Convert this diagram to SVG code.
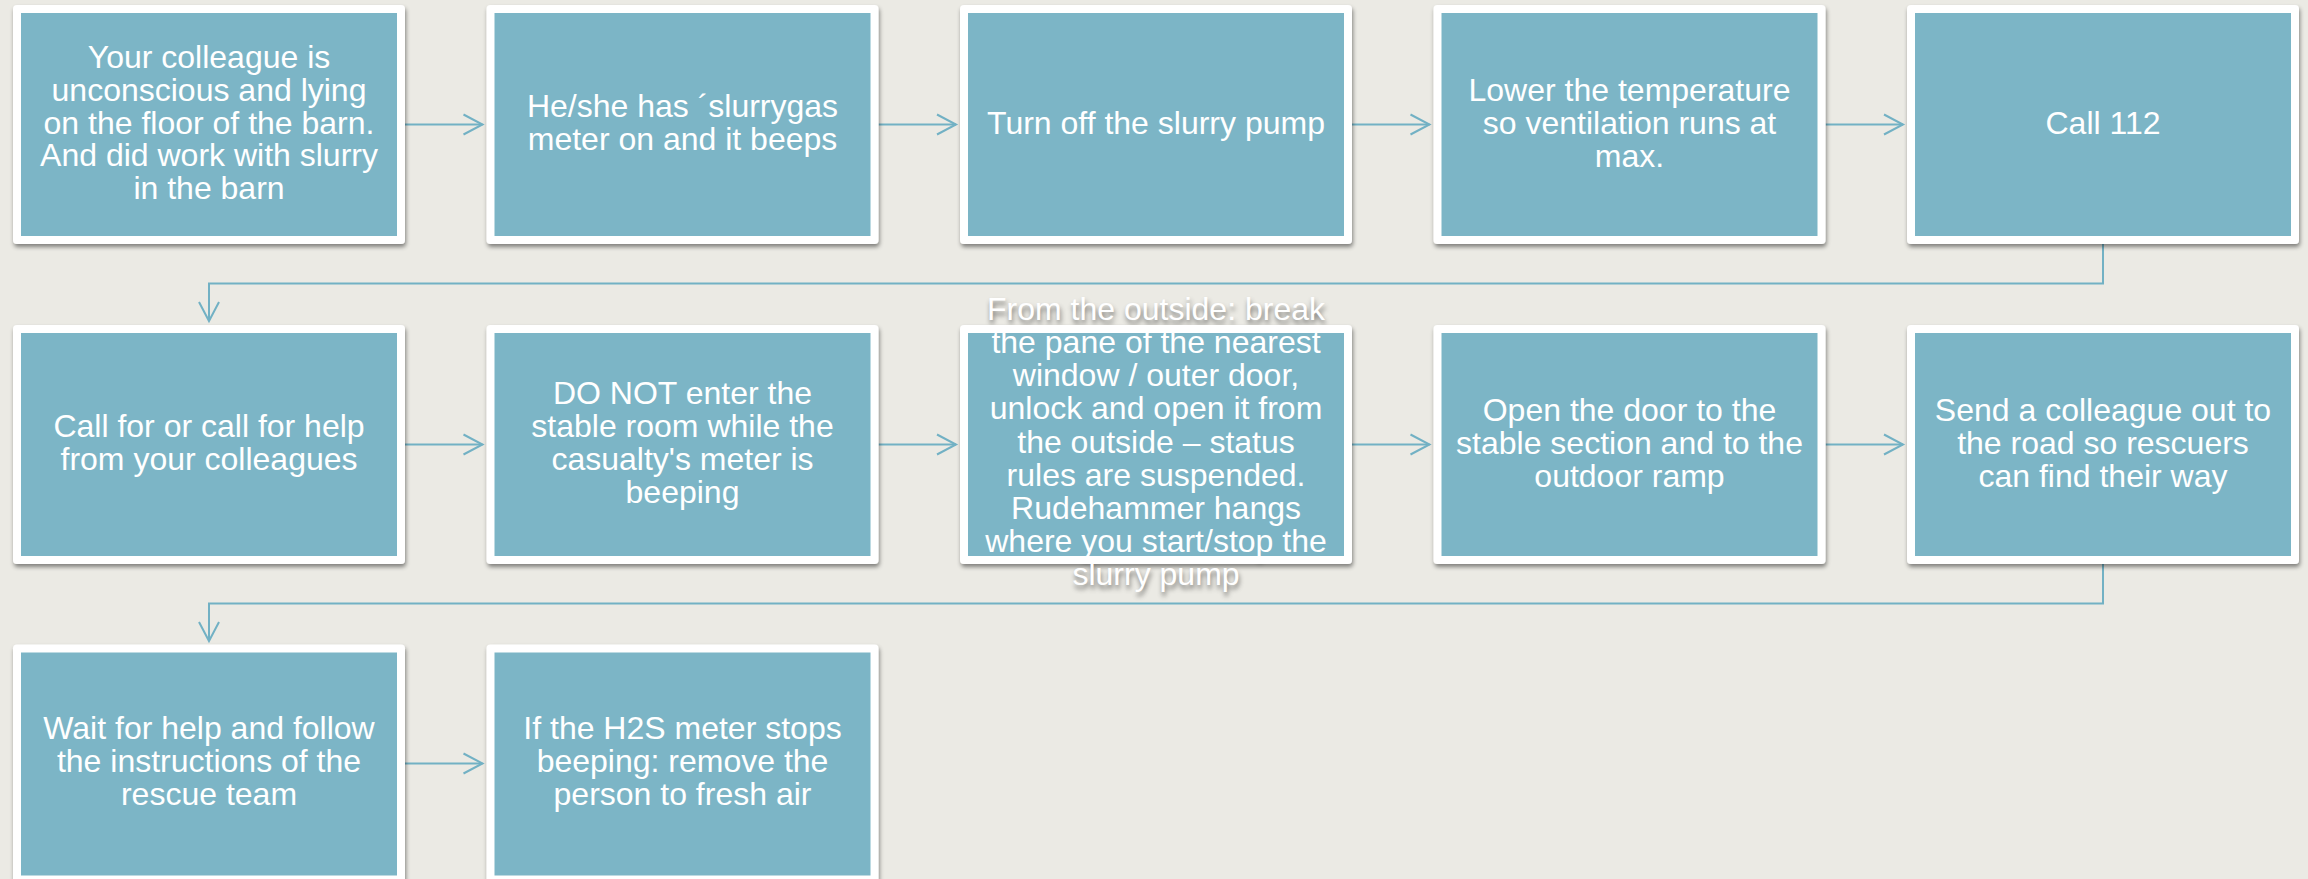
<svg xmlns="http://www.w3.org/2000/svg" width="2308" height="879" viewBox="0 0 2308 879">
<defs>
<style>
.frame{fill:#ffffff;filter:url(#shadow)}
.fill{fill:#7cb5c6}
.t{font-family:"Liberation Sans",Arial,sans-serif;font-size:32px;fill:#ffffff;text-anchor:middle}
.ts{filter:url(#tshadow)}
.c{fill:none;stroke:#72b1c4;stroke-width:2}
</style>
<filter id="shadow" x="-5%" y="-5%" width="115%" height="115%">
<feDropShadow dx="1" dy="3" stdDeviation="2" flood-color="#000" flood-opacity="0.45"/>
</filter>
<filter id="tshadow" x="-10%" y="-10%" width="120%" height="120%">
<feGaussianBlur in="SourceAlpha" stdDeviation="2.5"/>
<feOffset dx="1" dy="4" result="b"/>
<feFlood flood-color="#000" flood-opacity="0.5"/>
<feComposite in2="b" operator="in"/>
</filter>
<marker id="arr" viewBox="-21 -12 24 24" refX="0" refY="0" markerWidth="24" markerHeight="24" markerUnits="userSpaceOnUse" orient="auto">
<path d="M-19,-10 L0,0 L-19,10" fill="none" stroke="#72b1c4" stroke-width="2"/>
</marker>
</defs>
<rect x="0" y="0" width="2308" height="879" fill="#ebeae4"/>
<g id="connectors">
<line class="c" x1="405" y1="124.5" x2="482.5" y2="124.5" marker-end="url(#arr)"/>
<line class="c" x1="878.5" y1="124.5" x2="956" y2="124.5" marker-end="url(#arr)"/>
<line class="c" x1="1352" y1="124.5" x2="1429.5" y2="124.5" marker-end="url(#arr)"/>
<line class="c" x1="1825.5" y1="124.5" x2="1903" y2="124.5" marker-end="url(#arr)"/>
<polyline class="c" points="2103,244 2103,283.5 209,283.5 209,321" marker-end="url(#arr)"/>
<line class="c" x1="405" y1="444.5" x2="482.5" y2="444.5" marker-end="url(#arr)"/>
<line class="c" x1="878.5" y1="444.5" x2="956" y2="444.5" marker-end="url(#arr)"/>
<line class="c" x1="1352" y1="444.5" x2="1429.5" y2="444.5" marker-end="url(#arr)"/>
<line class="c" x1="1825.5" y1="444.5" x2="1903" y2="444.5" marker-end="url(#arr)"/>
<polyline class="c" points="2103,564 2103,603.5 209,603.5 209,641" marker-end="url(#arr)"/>
<line class="c" x1="405" y1="763.5" x2="482.5" y2="763.5" marker-end="url(#arr)"/>
</g>
<g id="n1">
<rect class="frame" x="13" y="5" width="392" height="239" rx="4"/>
<rect class="fill" x="21" y="13" width="376" height="223"/>
<text class="t"><tspan x="209" y="68">Your colleague is</tspan><tspan x="209" y="101">unconscious and lying</tspan><tspan x="209" y="133.5">on the floor of the barn.</tspan><tspan x="209" y="166">And did work with slurry</tspan><tspan x="209" y="199">in the barn</tspan></text>
</g>
<g id="n2">
<rect class="frame" x="486.5" y="5" width="392" height="239" rx="4"/>
<rect class="fill" x="494.5" y="13" width="376" height="223"/>
<text class="t"><tspan x="682.5" y="117">He/she has ´slurrygas</tspan><tspan x="682.5" y="150">meter on and it beeps</tspan></text>
</g>
<g id="n3">
<rect class="frame" x="960" y="5" width="392" height="239" rx="4"/>
<rect class="fill" x="968" y="13" width="376" height="223"/>
<text class="t"><tspan x="1156" y="133.5">Turn off the slurry pump</tspan></text>
</g>
<g id="n4">
<rect class="frame" x="1433.5" y="5" width="392" height="239" rx="4"/>
<rect class="fill" x="1441.5" y="13" width="376" height="223"/>
<text class="t"><tspan x="1629.5" y="100.5">Lower the temperature</tspan><tspan x="1629.5" y="133.5">so ventilation runs at</tspan><tspan x="1629.5" y="166.5">max.</tspan></text>
</g>
<g id="n5">
<rect class="frame" x="1907" y="5" width="392" height="239" rx="4"/>
<rect class="fill" x="1915" y="13" width="376" height="223"/>
<text class="t"><tspan x="2103" y="133.5">Call 112</tspan></text>
</g>
<g id="n6">
<rect class="frame" x="13" y="325" width="392" height="239" rx="4"/>
<rect class="fill" x="21" y="333" width="376" height="223"/>
<text class="t"><tspan x="209" y="437">Call for or call for help</tspan><tspan x="209" y="470">from your colleagues</tspan></text>
</g>
<g id="n7">
<rect class="frame" x="486.5" y="325" width="392" height="239" rx="4"/>
<rect class="fill" x="494.5" y="333" width="376" height="223"/>
<text class="t"><tspan x="682.5" y="404">DO NOT enter the</tspan><tspan x="682.5" y="437">stable room while the</tspan><tspan x="682.5" y="470">casualty's meter is</tspan><tspan x="682.5" y="503">beeping</tspan></text>
</g>
<g id="n8">
<g class="ts" aria-hidden="true"><text class="t"><tspan x="1156" y="320">From the outside: break</tspan><tspan x="1156" y="353">the pane of the nearest</tspan><tspan x="1156" y="386">window / outer door,</tspan><tspan x="1156" y="419">unlock and open it from</tspan><tspan x="1156" y="452.5">the outside – status</tspan><tspan x="1156" y="485.5">rules are suspended.</tspan><tspan x="1156" y="518.5">Rudehammer hangs</tspan><tspan x="1156" y="551.5">where you start/stop the</tspan><tspan x="1156" y="584.5">slurry pump</tspan></text></g>
<rect class="frame" x="960" y="325" width="392" height="239" rx="4"/>
<rect class="fill" x="968" y="333" width="376" height="223"/>
<text class="t"><tspan x="1156" y="320">From the outside: break</tspan><tspan x="1156" y="353">the pane of the nearest</tspan><tspan x="1156" y="386">window / outer door,</tspan><tspan x="1156" y="419">unlock and open it from</tspan><tspan x="1156" y="452.5">the outside – status</tspan><tspan x="1156" y="485.5">rules are suspended.</tspan><tspan x="1156" y="518.5">Rudehammer hangs</tspan><tspan x="1156" y="551.5">where you start/stop the</tspan><tspan x="1156" y="584.5">slurry pump</tspan></text>
</g>
<g id="n9">
<rect class="frame" x="1433.5" y="325" width="392" height="239" rx="4"/>
<rect class="fill" x="1441.5" y="333" width="376" height="223"/>
<text class="t"><tspan x="1629.5" y="420.5">Open the door to the</tspan><tspan x="1629.5" y="453.5">stable section and to the</tspan><tspan x="1629.5" y="486.5">outdoor ramp</tspan></text>
</g>
<g id="n10">
<rect class="frame" x="1907" y="325" width="392" height="239" rx="4"/>
<rect class="fill" x="1915" y="333" width="376" height="223"/>
<text class="t"><tspan x="2103" y="420.5">Send a colleague out to</tspan><tspan x="2103" y="453.5">the road so rescuers</tspan><tspan x="2103" y="486.5">can find their way</tspan></text>
</g>
<g id="n11">
<rect class="frame" x="13" y="644.5" width="392" height="239" rx="4"/>
<rect class="fill" x="21" y="652.5" width="376" height="223"/>
<text class="t"><tspan x="209" y="739">Wait for help and follow</tspan><tspan x="209" y="772">the instructions of the</tspan><tspan x="209" y="805">rescue team</tspan></text>
</g>
<g id="n12">
<rect class="frame" x="486.5" y="644.5" width="392" height="239" rx="4"/>
<rect class="fill" x="494.5" y="652.5" width="376" height="223"/>
<text class="t"><tspan x="682.5" y="739">If the H2S meter stops</tspan><tspan x="682.5" y="772">beeping: remove the</tspan><tspan x="682.5" y="805">person to fresh air</tspan></text>
</g>
</svg>
